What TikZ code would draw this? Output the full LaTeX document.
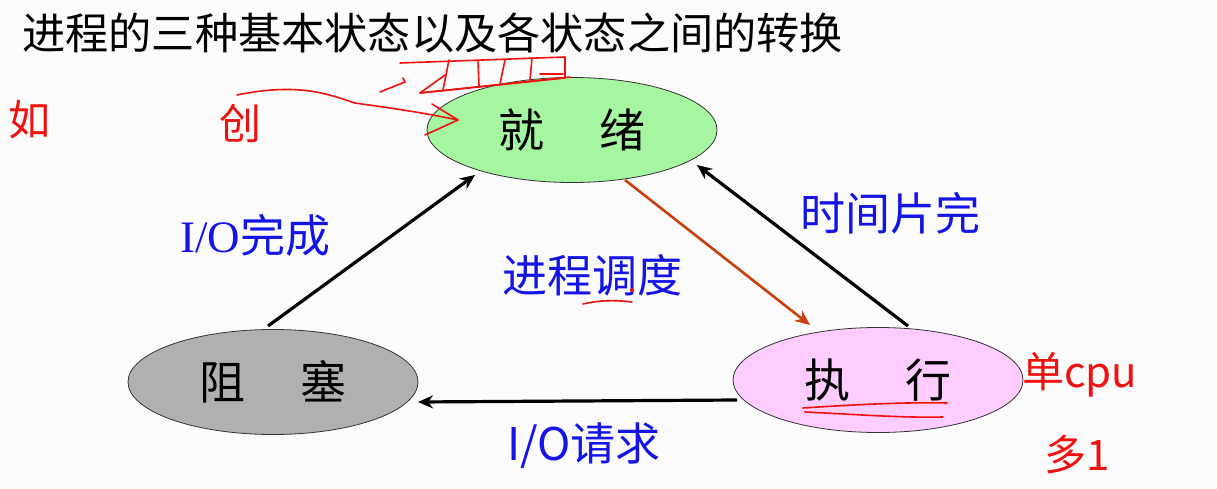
\documentclass[tikz,border=0pt]{standalone}
\usepackage{fontspec}
\newfontfamily\cjk{Noto Sans CJK SC}
\newfontfamily\serifl{Liberation Serif}
\usetikzlibrary{arrows.meta,shapes.geometric,calc}
\definecolor{bg}{HTML}{FAFBFA}
\definecolor{rdyfill}{HTML}{A6F5A0}
\definecolor{blkfill}{HTML}{B0B0AE}
\definecolor{runfill}{HTML}{FFCCFF}
\definecolor{lblblue}{HTML}{1414E6}
\definecolor{schedred}{HTML}{C8400E}
\definecolor{inkred}{HTML}{F01010}
\tikzset{
  state/.style={ellipse, draw=black!80, line width=0.8pt, minimum width=290pt, minimum height=105pt, inner sep=0pt, font=\cjk\fontsize{46}{46}\selectfont},
  trans/.style={line width=3.2pt, -{Stealth[length=15pt,width=13pt]}},
  lbl/.style={text=lblblue, inner sep=0pt, font=\cjk\fontsize{45}{45}\selectfont},
  ink/.style={draw=inkred, line width=1.6pt, line cap=round, line join=round},
  inktext/.style={text=inkred, inner sep=0pt, font=\cjk\fontsize{42}{42}\selectfont}
}
\begin{document}
\begin{tikzpicture}[x=1pt,y=-1pt]
\useasboundingbox (0,0) rectangle (1217,489);
\fill[bg] (0,0) rectangle (1217,489);
\node[anchor=west, inner sep=0pt, font=\cjk\fontsize{43.2}{43.2}\selectfont] (title) at (22,33) {进程的三种基本状态以及各状态之间的转换};

\node[state, fill=rdyfill] (ready) at (572,130) {就\hspace{55pt}绪};
\node[state, fill=blkfill] (blocked) at (273,382) {阻\hspace{55pt}塞};
\node[state, fill=runfill] (run) at (878,380) {执\hspace{55pt}行};

\coordinate (b1) at ($(blocked.center)+(-5,-56)$);
\coordinate (rd1) at ($(ready.center)+(-97,45)$);
\coordinate (rd2) at ($(ready.center)+(53,50)$);
\coordinate (rn1) at ($(run.center)+(-68,-55)$);
\coordinate (rn2) at ($(run.center)+(30,-54)$);
\coordinate (rd3) at ($(ready.center)+(125,35)$);
\coordinate (rn3) at ($(run.center)+(-141,20)$);
\coordinate (b2) at ($(blocked.center)+(145,20)$);

\draw[trans] (b1) -- (rd1);
\draw[trans, draw=schedred, line width=2.6pt] (rd2) -- (rn1);
\draw[trans] (rn2) -- (rd3);
\draw[trans] (rn3) -- (b2);

\node[lbl, anchor=west] (lbldone) at (180,235) {{\serifl I/O}完成};
\node[lbl, anchor=west] (lblsched) at (502,275) {进程调度};
\node[lbl, anchor=west] (lblslice) at (800,213) {时间片完};
\node[lbl, anchor=west] (lblreq) at (507,446) {I/O请求};

% handwritten annotations
\node[inktext] (ru) at (30,120) {如};
\node[inktext] (chuang) at (240,124) {创};
\node[inktext, anchor=west] (dan) at (1022,375) {单cpu};
\node[inktext, anchor=west] (duo) at (1044,455) {多1};
\draw[ink] (237,95) .. controls (300,82) and (330,95) .. (355,103) .. controls (390,108) and (420,112) .. (458,120);
\draw[ink] (432,104) -- (458,120) -- (425,135);
\draw[ink] (380,92) -- (405,82) -- (403,78);
\draw[ink] (400,63) -- (565,57) -- (565,78) -- (420,93) -- (445,75);
\draw[ink] (420,93) -- (570,77);
\draw[ink] (449,60) -- (443,90);
\draw[ink] (478,60) -- (479,86);
\draw[ink] (505,60) -- (500,84);
\draw[ink] (532,58) -- (530,80);
\draw[ink] (540,74) -- (563,74);
\draw[ink] (803,408) .. controls (850,405) and (900,402) .. (947,403);
\draw[ink] (805,412) .. controls (850,414) and (900,418) .. (943,417);
\draw[ink] (583,304) .. controls (600,300) and (615,300) .. (632,302);
\fill[inkred] (632,290) circle (2pt);
\end{tikzpicture}
\end{document}
